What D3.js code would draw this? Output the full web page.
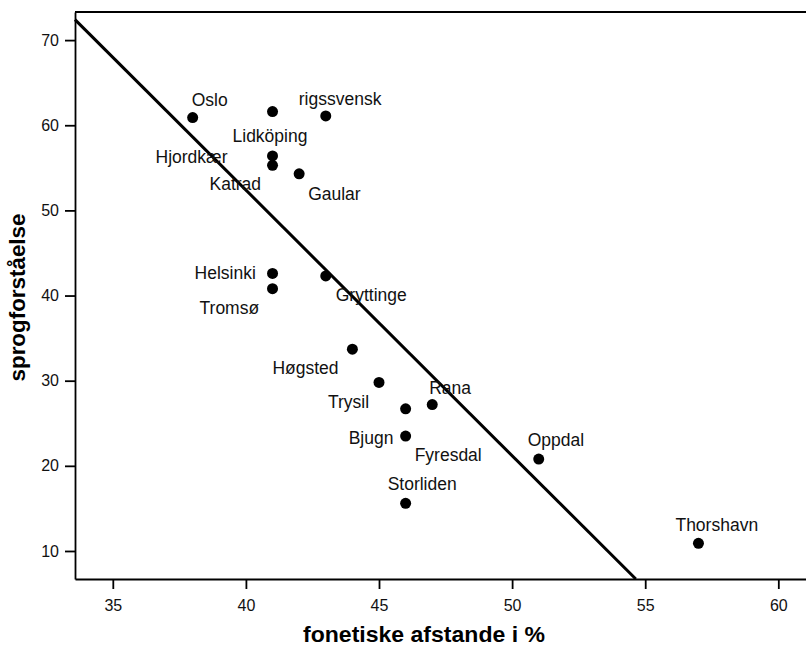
<!DOCTYPE html>
<html>
<head>
<meta charset="utf-8">
<script src="https://cdnjs.cloudflare.com/ajax/libs/d3/7.8.5/d3.min.js"></script>
<style>
  body { margin: 0; background: #fff; }
  svg { display: block; font-family: "Liberation Sans", Arial, Helvetica, sans-serif; }
</style>
</head>
<body>
<div id="graph"></div>
<script>
/* Data */
const places = ["Oslo", "rigssvensk", "Lidköping", "Hjordkær", "Katrad", "Gaular", "Helsinki", "Tromsø",
                "Gryttinge", "Høgsted", "Trysil", "Bjugn", "Rana", "Fyresdal", "Storliden", "Oppdal", "Thorshavn"]
const distances = [38, 43, 41, 41, 41, 42, 41, 41, 43, 44, 45, 46, 47, 46, 46, 51, 57]
const understanding = [60.9, 61.1, 61.6, 56.4, 55.3, 54.3, 42.6, 40.8, 42.3, 33.7, 29.8, 26.7, 27.2, 23.5, 15.6, 20.8, 10.9]
const xTicks = [35, 40, 45, 50, 55, 60]
const yTicks = [10, 20, 30, 40, 50, 60, 70]
/* fitted line: understanding = intercept + slope * distance */
const FIT_INTERCEPT = 177.1
const FIT_SLOPE = -3.118
const X_LABEL = "fonetiske afstande i %"
const Y_LABEL = "sprogforståelse"

/* Layout: label placement (dx = text start, dy = baseline) in px relative to the dot */
const labelOffsets = [[-1, -12], [-27, -11], [-40, 30], [-117, 7], [-63, 25], [9, 26], [-78, 6], [-73, 25],
                      [10, 25], [-80, 25], [-51, 26], [-57, 35], [-3, -11], [9, 25], [-18, -13], [-11, -13], [-23, -12]]

/* Constant definitions */
const WIDTH = 806
const HEIGHT = 647
const LEFT = 75
const TOP = 12
const BOTTOM = 579
const RIGHT = 806
const DOT_RADIUS = 5.5

const xScale = d3.scaleLinear().domain([33.58, 61.04]).range([LEFT, RIGHT]);
const yScale = d3.scaleLinear().domain([6.71, 73.3]).range([BOTTOM, TOP]);

const canvas = d3.select("#graph")
                 .append("svg")
                 .attr("width", WIDTH)
                 .attr("height", HEIGHT);

/* Frame top line */
canvas.append("line")
      .attr("x1", LEFT).attr("x2", RIGHT)
      .attr("y1", TOP).attr("y2", TOP)
      .attr("stroke", "#000").attr("stroke-width", 1.8);

/* Axes */
const xAxis = d3.axisBottom(xScale).tickValues(xTicks).tickSize(10).tickSizeOuter(0).tickPadding(11);
const yAxis = d3.axisLeft(yScale).tickValues(yTicks).tickSize(10).tickSizeOuter(0).tickPadding(6);

const gx = canvas.append("g")
                 .attr("transform", "translate(0, " + BOTTOM + ")")
                 .call(xAxis);
const gy = canvas.append("g")
                 .attr("transform", "translate(" + LEFT + ", 0)")
                 .call(yAxis);
[gx, gy].forEach((g) => {
  g.attr("font-family", null).attr("font-size", null);
  g.selectAll(".domain").attr("stroke", "#000").attr("stroke-width", 1.8);
  g.selectAll(".tick line").attr("stroke", "#000").attr("stroke-width", 1.8);
  g.selectAll(".tick text").attr("fill", "#111").style("font-size", "16px");
});

/* Fit line, clipped to the plot area */
const xStart = xScale.domain()[0];
const xEnd = (yScale.domain()[0] - FIT_INTERCEPT) / FIT_SLOPE;
canvas.append("line")
      .attr("x1", xScale(xStart))
      .attr("y1", yScale(FIT_INTERCEPT + FIT_SLOPE * xStart))
      .attr("x2", xScale(xEnd))
      .attr("y2", yScale(FIT_INTERCEPT + FIT_SLOPE * xEnd))
      .attr("stroke", "#000")
      .attr("stroke-width", 3);

/* Dots */
canvas.selectAll("circle.dot")
      .data(places)
      .enter()
      .append("circle")
      .attr("class", "dot")
      .attr("cx", (d, i) => xScale(distances[i]))
      .attr("cy", (d, i) => yScale(understanding[i]))
      .attr("r", DOT_RADIUS)
      .attr("fill", "#000");

/* Point labels */
canvas.selectAll("text.place")
      .data(places)
      .enter()
      .append("text")
      .attr("class", "place")
      .attr("x", (d, i) => xScale(distances[i]) + labelOffsets[i][0])
      .attr("y", (d, i) => yScale(understanding[i]) + labelOffsets[i][1])
      .style("font-size", "17.5px")
      .attr("fill", "#111")
      .text((d) => d);

/* Axis titles */
canvas.append("text")
      .attr("x", 303)
      .attr("y", 642)
      .attr("textLength", 242)
      .attr("lengthAdjust", "spacingAndGlyphs")
      .style("font-size", "22px")
      .style("font-weight", "bold")
      .text(X_LABEL);
canvas.append("text")
      .attr("transform", "translate(25, 297.5) rotate(-90)")
      .attr("text-anchor", "middle")
      .attr("textLength", 168)
      .attr("lengthAdjust", "spacingAndGlyphs")
      .style("font-size", "22px")
      .style("font-weight", "bold")
      .text(Y_LABEL);
</script>
</body>
</html>
